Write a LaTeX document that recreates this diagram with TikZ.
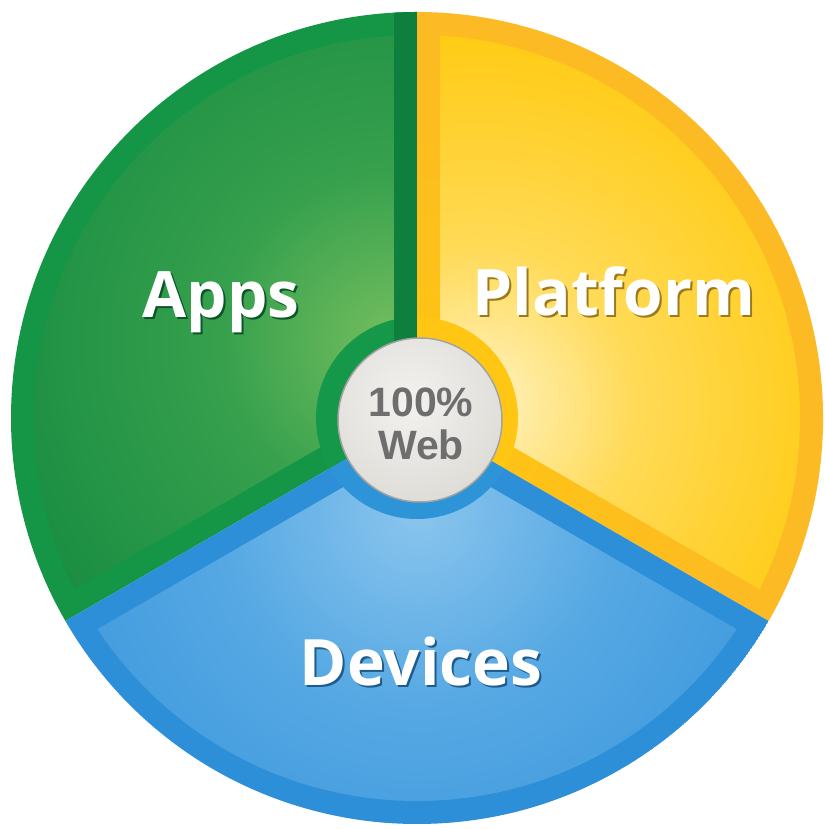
\documentclass[tikz,border=0pt]{standalone}
\usepackage{fontspec}
\newfontfamily\labfont{Open Sans}
\newfontfamily\webfont{Liberation Sans}
\usetikzlibrary{calc}
\definecolor{gband}{HTML}{149646}
\definecolor{gdiv}{HTML}{0F7F3D}
\definecolor{glight}{HTML}{74BE5E}
\definecolor{gmid}{HTML}{36A04D}
\definecolor{gdark}{HTML}{12883F}
\definecolor{gring}{HTML}{16984A}
\definecolor{gshadow}{HTML}{0B5527}
\definecolor{yband}{HTML}{F9AF36}
\definecolor{ybandin}{HTML}{FFC512}
\definecolor{ylight}{HTML}{FFF3C4}
\definecolor{ymid}{HTML}{FFDA55}
\definecolor{ydark}{HTML}{FFC90B}
\definecolor{yring}{HTML}{FFC713}
\definecolor{yshadow}{HTML}{9C7A1C}
\definecolor{bband}{HTML}{2C8FD7}
\definecolor{blight}{HTML}{8AC5EE}
\definecolor{bmid}{HTML}{55A8E3}
\definecolor{bdark}{HTML}{3492DA}
\definecolor{bring}{HTML}{2E94D8}
\definecolor{bshadow}{HTML}{1D5B8C}
\definecolor{wlight}{HTML}{F3F2EF}
\definecolor{wdark}{HTML}{CBC8C1}
\definecolor{wedge}{HTML}{A3A3A3}
\definecolor{wtext}{HTML}{6E6E6E}
\pgfdeclareradialshading{gshade}{\pgfpoint{0bp}{0bp}}{color(0bp)=(glight); color(9bp)=(gmid); color(25bp)=(gdark); color(50bp)=(gdark)}
\pgfdeclareradialshading{yshade}{\pgfpoint{0bp}{0bp}}{color(0bp)=(ylight); color(10bp)=(ymid); color(25bp)=(ydark); color(50bp)=(ydark)}
\pgfdeclareradialshading{bshade}{\pgfpoint{0bp}{0bp}}{color(0bp)=(blight); color(10bp)=(bmid); color(25bp)=(bdark); color(50bp)=(bdark)}
\newcommand{\shtext}[2]{\makebox[0pt][l]{\hspace*{2pt}\raisebox{-2pt}{\textcolor{#1}{#2}}}#2}
\tikzset{
  biglabel/.style={font=\labfont\bfseries\fontsize{64}{70}\selectfont, text=white, inner sep=0pt, anchor=base},
  webtext/.style={font=\webfont\bfseries\fontsize{41}{45}\selectfont, text=wtext, align=center, inner sep=0pt}
}
\begin{document}
\begin{tikzpicture}[x=1pt,y=1pt]
\useasboundingbox (0,0) rectangle (824,829);
\fill[white] (0,0) rectangle (824,829);
\coordinate (O) at (417,411);
% ---------- Apps (green) ----------
\begin{scope}
  \clip (O) -- ++(90:406) arc[start angle=90,end angle=210,radius=406pt] -- cycle;
  \fill[gband] (O) circle[radius=406pt];
  \begin{scope}
    \clip (O) circle[radius=383pt];
    \clip ($(O)+(150:26.6)$) -- +(90:1000) -- +(150:2000) -- +(210:1000) -- cycle;
    \shade[shading=gshade] (392,488) circle[radius=480pt];
  \end{scope}
  \fill[gdiv] ($(O)+(-23,0)$) rectangle ($(O)+(0,420)$);
\end{scope}
% ---------- Platform (yellow) ----------
\begin{scope}
  \clip (O) -- ++(-30:406) arc[start angle=-30,end angle=90,radius=406pt] -- cycle;
  \shade[inner color=ybandin, outer color=yband] (O) circle[radius=812pt];
  \begin{scope}
    \clip (O) circle[radius=383pt];
    \clip ($(O)+(30:26.6)$) -- +(-30:1000) -- +(30:2000) -- +(90:1000) -- cycle;
    \shade[shading=yshade] (478,425) circle[radius=400pt];
  \end{scope}
\end{scope}
% ---------- Devices (blue) ----------
\begin{scope}
  \clip (O) -- ++(210:406) arc[start angle=210,end angle=330,radius=406pt] -- cycle;
  \fill[bband] (O) circle[radius=406pt];
  \begin{scope}
    \clip (O) circle[radius=383pt];
    \clip ($(O)+(270:26.6)$) -- +(210:1000) -- +(270:2000) -- +(330:1000) -- cycle;
    \shade[shading=bshade] (418,318) circle[radius=500pt];
  \end{scope}
\end{scope}
% ---------- ring around the hub ----------
\fill[gring] (O) -- ++(90:101) arc[start angle=90,end angle=210,radius=101pt] -- cycle;
\fill[gdiv] ($(O)+(-23,0)$) rectangle ($(O)+(0,101)$);
\fill[yring] (O) -- ++(-30:101) arc[start angle=-30,end angle=90,radius=101pt] -- cycle;
\fill[bring] (O) -- ++(210:101) arc[start angle=210,end angle=330,radius=101pt] -- cycle;
% ---------- hub ----------
\coordinate (H) at (420,409);
\begin{scope}
  \clip (H) circle[radius=82pt];
  \shade[inner color=wlight, outer color=wdark] ($(H)+(-10,18)$) circle[radius=200pt];
\end{scope}
\draw[wedge, line width=1.5pt] (H) circle[radius=82pt];
\node[webtext] (web) at (421,405) {100\%\\[-2pt]Web};
% ---------- labels ----------
\node[biglabel] (apps) at (221,511) {\shtext{gshadow}{Apps}};
\node[biglabel] (platform) at (614,513) {\shtext{yshadow}{Platform}};
\node[biglabel] (devices) at (421,143) {\shtext{bshadow}{Devices}};
\end{tikzpicture}
\end{document}
